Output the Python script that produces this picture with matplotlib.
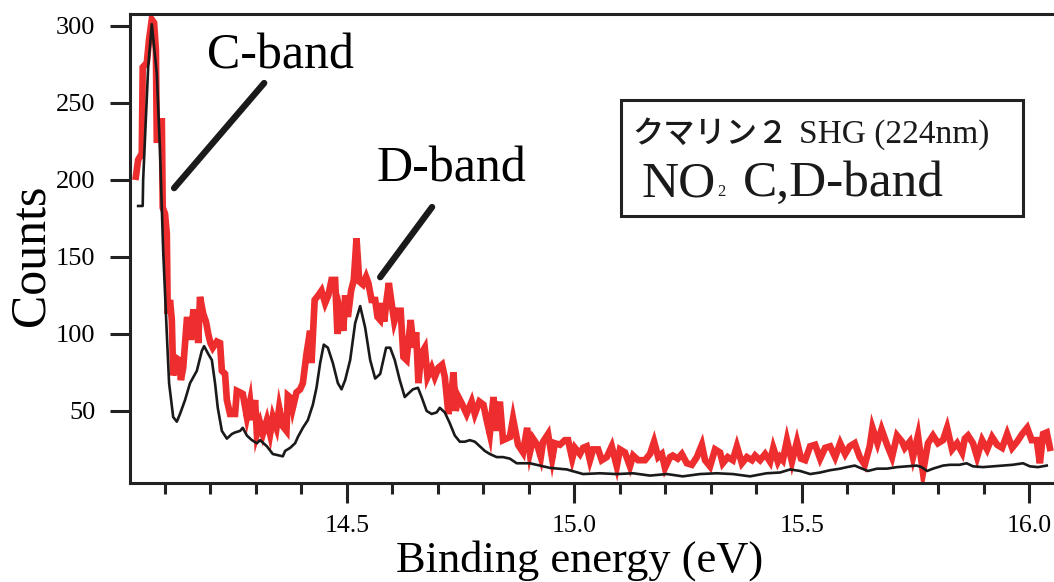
import matplotlib
matplotlib.use("Agg")
import matplotlib.pyplot as plt
from matplotlib.patches import Rectangle
from matplotlib.ticker import MultipleLocator, FixedLocator

plt.rcParams['font.family'] = ['Liberation Serif', 'Noto Sans CJK JP', 'DejaVu Sans']

# photoelectron spectrum, thick red trace (raw counts)
red_ev = [14.036, 14.041, 14.049, 14.051, 14.060, 14.065, 14.071, 14.076, 14.080, 14.082,
          14.089, 14.093, 14.095, 14.100, 14.104, 14.106, 14.111, 14.115, 14.118, 14.126,
          14.131, 14.135, 14.140, 14.148, 14.155, 14.157, 14.162, 14.170, 14.173, 14.177,
          14.184, 14.190, 14.195, 14.200, 14.205, 14.214, 14.221, 14.225, 14.232, 14.236,
          14.243, 14.254, 14.258, 14.265, 14.271, 14.280, 14.287, 14.291, 14.298, 14.302,
          14.309, 14.315, 14.324, 14.331, 14.337, 14.345, 14.351, 14.359, 14.367, 14.370,
          14.378, 14.381, 14.389, 14.397, 14.403, 14.411, 14.419, 14.422, 14.429, 14.437,
          14.444, 14.452, 14.459, 14.466, 14.474, 14.479, 14.485, 14.492, 14.496, 14.502,
          14.509, 14.515, 14.521, 14.527, 14.535, 14.542, 14.547, 14.554, 14.562, 14.567,
          14.573, 14.578, 14.582, 14.587, 14.592, 14.598, 14.604, 14.611, 14.618, 14.624,
          14.631, 14.640, 14.646, 14.652, 14.657, 14.663, 14.671, 14.677, 14.686, 14.693,
          14.701, 14.709, 14.715, 14.723, 14.729, 14.734, 14.739, 14.745, 14.752, 14.763,
          14.774, 14.781, 14.791, 14.800, 14.807, 14.814, 14.822, 14.829, 14.836, 14.843,
          14.858, 14.865, 14.876, 14.887, 14.896, 14.902, 14.909, 14.918, 14.926, 14.931,
          14.942, 14.951, 14.957, 14.968, 14.979, 14.986, 14.995, 15.001, 15.012, 15.019,
          15.027, 15.034, 15.041, 15.052, 15.060, 15.071, 15.082, 15.093, 15.100, 15.111,
          15.122, 15.129, 15.140, 15.155, 15.166, 15.175, 15.184, 15.192, 15.199, 15.210,
          15.216, 15.227, 15.236, 15.247, 15.258, 15.269, 15.280, 15.287, 15.298, 15.309,
          15.320, 15.326, 15.337, 15.348, 15.357, 15.368, 15.379, 15.390, 15.397, 15.408,
          15.419, 15.430, 15.437, 15.447, 15.452, 15.458, 15.467, 15.478, 15.489, 15.498,
          15.507, 15.518, 15.529, 15.540, 15.551, 15.562, 15.573, 15.584, 15.595, 15.605,
          15.616, 15.627, 15.638, 15.649, 15.655, 15.666, 15.675, 15.687, 15.698, 15.709,
          15.720, 15.726, 15.737, 15.744, 15.755, 15.766, 15.777, 15.788, 15.799, 15.810,
          15.819, 15.830, 15.841, 15.852, 15.858, 15.865, 15.876, 15.885, 15.896, 15.907,
          15.918, 15.929, 15.940, 15.951, 15.962, 15.973, 15.984, 15.995, 16.005, 16.016,
          16.023, 16.030, 16.038, 16.045]
red_counts = [202, 213, 217, 273, 276, 291, 304, 302, 284, 226,
              226, 240, 182, 178, 165, 113, 122, 109, 73, 84,
              83, 70, 78, 109, 109, 96, 114, 114, 94, 124,
              113, 108, 100, 94, 91, 95, 94, 76, 74, 57,
              48, 48, 63, 62, 61, 46, 56, 44, 57, 35,
              42, 35, 44, 35, 46, 39, 52, 40, 37, 60,
              58, 52, 62, 64, 68, 87, 102, 81, 122, 125,
              128, 120, 125, 135, 135, 100, 113, 102, 125, 111,
              128, 135, 162, 134, 132, 137, 133, 122, 122, 111,
              109, 120, 108, 122, 133, 120, 108, 115, 115, 85,
              83, 109, 91, 101, 68, 87, 91, 72, 78, 72,
              78, 80, 72, 48, 59, 75, 50, 59, 55, 48,
              56, 48, 56, 54, 44, 35, 59, 37, 56, 31,
              33, 45, 28, 23, 39, 23, 32, 28, 20, 30,
              35, 19, 29, 28, 31, 31, 19, 26, 22, 26,
              27, 18, 25, 25, 18, 20, 27, 14, 25, 23,
              14, 21, 18, 18, 22, 30, 20, 22, 13, 20,
              21, 19, 22, 16, 15, 20, 28, 18, 14, 25,
              23, 16, 20, 18, 27, 16, 20, 18, 21, 18,
              22, 17, 26, 17, 20, 18, 31, 17, 30, 19,
              18, 27, 28, 19, 26, 27, 20, 29, 22, 27,
              29, 20, 15, 27, 39, 29, 38, 28, 20, 34,
              30, 26, 30, 20, 34, 10, 29, 34, 29, 31,
              39, 25, 29, 23, 32, 34, 29, 20, 31, 25,
              33, 28, 26, 35, 26, 30, 35, 39, 31, 31,
              16, 35, 36, 26]

# smoothed trace, thin black
black_ev = [14.041, 14.051, 14.052, 14.063, 14.071, 14.082, 14.089, 14.096, 14.104, 14.109,
            14.118, 14.126, 14.133, 14.144, 14.155, 14.170, 14.181, 14.186, 14.195, 14.203,
            14.210, 14.216, 14.225, 14.236, 14.247, 14.254, 14.265, 14.271, 14.280, 14.291,
            14.302, 14.309, 14.324, 14.337, 14.352, 14.359, 14.364, 14.375, 14.386, 14.392,
            14.403, 14.414, 14.425, 14.433, 14.441, 14.449, 14.458, 14.469, 14.480, 14.488,
            14.496, 14.507, 14.518, 14.529, 14.540, 14.551, 14.562, 14.573, 14.586, 14.595,
            14.605, 14.616, 14.627, 14.634, 14.645, 14.656, 14.664, 14.675, 14.686, 14.697,
            14.704, 14.715, 14.726, 14.737, 14.748, 14.759, 14.770, 14.781, 14.792, 14.803,
            14.814, 14.829, 14.843, 14.858, 14.873, 14.902, 14.931, 14.946, 14.983, 15.019,
            15.056, 15.093, 15.129, 15.166, 15.203, 15.238, 15.276, 15.313, 15.348, 15.386,
            15.422, 15.452, 15.474, 15.496, 15.518, 15.540, 15.562, 15.584, 15.599, 15.616,
            15.632, 15.645, 15.665, 15.687, 15.709, 15.731, 15.752, 15.763, 15.775, 15.788,
            15.810, 15.825, 15.846, 15.862, 15.876, 15.898, 15.920, 15.942, 15.963, 15.986,
            16.001, 16.019, 16.038]
black_counts = [183, 183, 200, 273, 301, 269, 219, 154, 100, 68,
                46, 43, 48, 57, 68, 76, 89, 92, 87, 83,
                68, 52, 37, 32, 35, 36, 37, 39, 34, 31,
                29, 31, 27, 22, 21, 20.5, 24, 26, 29, 33,
                39, 44, 54, 65, 81, 93, 91, 81, 68, 64,
                70, 83, 107, 118, 104, 83, 71, 74, 91, 91,
                83, 70, 59, 61, 64, 65, 59, 50, 48, 49,
                52, 49, 42, 34, 30, 30, 31, 30, 27, 24,
                22, 20, 20, 19, 16, 16, 14, 13, 12, 9,
                9.5, 9, 9.5, 8, 9, 7.5, 9, 9.5, 9, 7.5,
                9.5, 10, 12, 11, 9, 10, 11.5, 12.5, 13.5, 14.5,
                12.5, 11, 12.5, 12.5, 13.5, 14, 14.5, 13.5, 11, 12.5,
                14.5, 15, 15, 16, 14, 13.5, 14, 14.5, 15, 16,
                14, 13.5, 14.5]

major_ticks = [14.5, 15.0, 15.5, 16.0]
major_labels = ['14.5', '15.0', '15.5', '16.0']
y_ticks = [50, 100, 150, 200, 250, 300]

fig = plt.figure(figsize=(10.54, 5.82), dpi=100)
ax = fig.add_axes([0.1233, 0.1696, 0.8767, 0.8063])

ax.plot(red_ev, red_counts, color='#ee2e2e', lw=4.8, solid_joinstyle='miter', zorder=2)
ax.plot(black_ev, black_counts, color='#1a1a1a', lw=1.9, zorder=3)

ax.set_xlim(14.023, 16.054)
ax.set_ylim(3, 307.6)

ax.xaxis.set_major_locator(FixedLocator(major_ticks))
ax.set_xticklabels(major_labels)
ax.xaxis.set_minor_locator(MultipleLocator(0.1))
ax.set_yticks(y_ticks)

for s in ['left', 'bottom', 'top']:
    ax.spines[s].set_linewidth(2.2)
    ax.spines[s].set_color('#222222')
ax.spines['right'].set_visible(False)

ax.tick_params(axis='y', which='major', direction='out', length=14.4, width=2.2,
               color='#222222', labelsize=19, pad=10.5)
ax.tick_params(axis='x', which='major', direction='out', length=14.4, width=2.2,
               color='#222222', labelsize=18.5, pad=8.5)
ax.tick_params(axis='x', which='minor', direction='out', length=8, width=2.2,
               color='#222222')

ax.set_xlabel('Binding energy (eV)', fontsize=32, va='bottom')
ax.xaxis.set_label_coords(0.487, -0.208)
ax.set_ylabel('Counts', fontsize=36, va='center')
ax.yaxis.set_label_coords(-0.107, 0.4865)

# band labels with pointer lines
ax.text(14.192, 272.5, 'C-band', fontsize=36, ha='left', va='baseline')
ax.annotate('', xy=(14.120, 194.6), xytext=(14.318, 262.8),
            arrowprops=dict(arrowstyle='-', lw=4.6, color='#1a1a1a', shrinkA=0, shrinkB=0))
ax.text(14.566, 199, 'D-band', fontsize=36, ha='left', va='baseline')
ax.annotate('', xy=(14.573, 136.8), xytext=(14.687, 182.3),
            arrowprops=dict(arrowstyle='-', lw=4.6, color='#1a1a1a', shrinkA=0, shrinkB=0))

# condition box
fig.patches.append(Rectangle((0.5892, 0.6289), 0.3814, 0.1993, transform=fig.transFigure,
                             fill=False, lw=2.2, edgecolor='#222222', zorder=5))
fig.text(0.5996, 0.7543, 'クマリン２', fontsize=22.5, family=['Noto Sans CJK JP'],
         weight='medium', ha='left', va='baseline', color='#1a1a1a')
fig.text(0.7581, 0.7543, 'SHG (224nm)', fontsize=24, ha='left', va='baseline', color='#1a1a1a')
fig.text(0.6091, 0.6632, 'NO', fontsize=37, ha='left', va='baseline', color='#1a1a1a')
fig.text(0.6803, 0.6632, '2', fontsize=12, ha='left', va='baseline', color='#1a1a1a')
fig.text(0.7049, 0.6632, 'C,D-band', fontsize=37, ha='left', va='baseline', color='#1a1a1a')

fig.savefig('out.png', dpi=100)
